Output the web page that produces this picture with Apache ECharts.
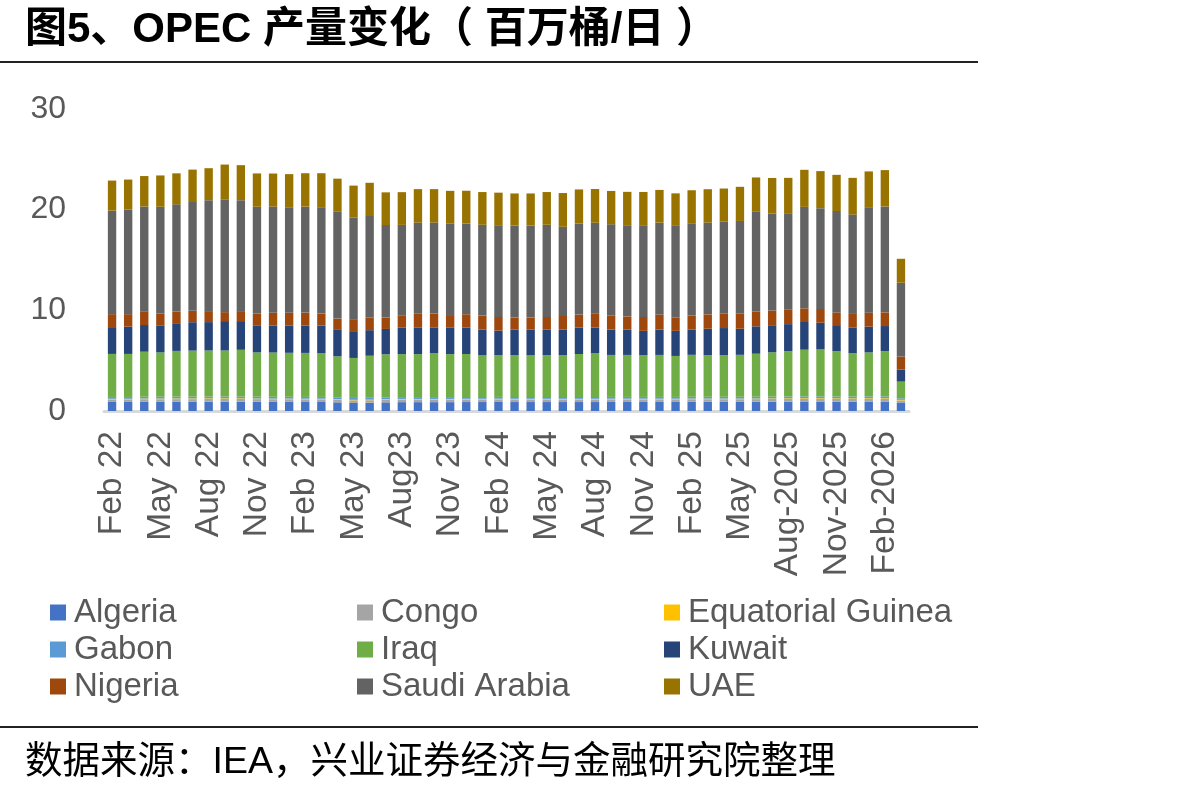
<!DOCTYPE html>
<html>
<head>
<meta charset="utf-8">
<script src="https://cdn.jsdelivr.net/npm/echarts@6/dist/echarts.min.js"></script>
<style>
  html, body { margin: 0; padding: 0; background: #fff; }
  #main { width: 1192px; height: 792px; }
</style>
</head>
<body>
<div id="main"></div>
<script>
// 月份（每三个月显示一个标签）
var months = ['Feb 22','Mar 22','Apr 22','May 22','Jun 22','Jul 22','Aug 22','Sep 22','Oct 22','Nov 22','Dec 22',
  'Jan 23','Feb 23','Mar 23','Apr 23','May 23','Jun 23','Jul 23','Aug23','Sep 23','Oct 23','Nov 23','Dec 23',
  'Jan 24','Feb 24','Mar 24','Apr 24','May 24','Jun 24','Jul 24','Aug 24','Sep 24','Oct 24','Nov 24','Dec 24',
  'Jan 25','Feb 25','Mar 25','Apr 25','May 25','Jun 25','Jul 25','Aug-2025','Sep-2025','Oct-2025','Nov-2025','Dec-2025',
  'Jan-2026','Feb-2026','Mar-2026'];

var yTicks = [0, 10, 20, 30];

// 各国产量，百万桶/日
var algeria = [0.90,0.90,0.91,0.91,0.92,0.92,0.93,0.93,0.93,0.92,0.91,0.91,0.90,0.90,0.86,0.80,0.82,0.86,0.88,0.88,0.88,0.88,0.89,0.89,0.90,0.89,0.89,0.89,0.89,0.89,0.89,0.90,0.90,0.90,0.90,0.90,0.91,0.91,0.91,0.91,0.92,0.93,0.93,0.94,0.94,0.93,0.93,0.94,0.94,0.85];
var congo = [0.26,0.26,0.26,0.26,0.26,0.26,0.26,0.26,0.26,0.26,0.26,0.26,0.26,0.26,0.26,0.26,0.25,0.26,0.26,0.26,0.26,0.26,0.26,0.26,0.26,0.26,0.26,0.26,0.26,0.26,0.26,0.26,0.26,0.26,0.26,0.26,0.26,0.26,0.26,0.26,0.26,0.26,0.26,0.26,0.26,0.26,0.26,0.26,0.26,0.20];
var eqGuinea = [0.06,0.06,0.07,0.07,0.07,0.07,0.07,0.07,0.07,0.06,0.06,0.06,0.06,0.06,0.06,0.05,0.06,0.06,0.06,0.06,0.06,0.06,0.06,0.06,0.06,0.06,0.06,0.06,0.06,0.06,0.06,0.06,0.06,0.06,0.06,0.06,0.06,0.06,0.06,0.06,0.06,0.06,0.07,0.07,0.07,0.07,0.07,0.07,0.07,0.06];
var gabon = [0.18,0.18,0.18,0.18,0.18,0.18,0.18,0.18,0.18,0.18,0.18,0.18,0.18,0.18,0.18,0.19,0.19,0.18,0.18,0.18,0.18,0.18,0.18,0.18,0.18,0.18,0.18,0.18,0.18,0.18,0.18,0.18,0.18,0.18,0.18,0.18,0.18,0.18,0.18,0.18,0.18,0.18,0.18,0.18,0.18,0.18,0.18,0.18,0.18,0.15];
var iraq = [4.27,4.27,4.47,4.40,4.54,4.57,4.57,4.57,4.64,4.40,4.40,4.37,4.37,4.34,4.07,3.97,4.17,4.27,4.27,4.27,4.37,4.27,4.27,4.14,4.14,4.17,4.14,4.17,4.17,4.27,4.37,4.17,4.17,4.14,4.17,4.07,4.17,4.14,4.14,4.17,4.27,4.40,4.50,4.64,4.67,4.50,4.30,4.37,4.50,1.66];
var kuwait = [2.66,2.72,2.65,2.69,2.75,2.82,2.82,2.92,2.85,2.69,2.69,2.72,2.72,2.75,2.69,2.66,2.54,2.52,2.62,2.62,2.52,2.62,2.62,2.55,2.45,2.52,2.55,2.52,2.52,2.62,2.52,2.52,2.52,2.42,2.52,2.49,2.52,2.62,2.69,2.59,2.72,2.69,2.69,2.75,2.65,2.59,2.53,2.56,2.49,1.19];
var nigeria = [1.29,1.23,1.33,1.19,1.16,1.13,1.09,0.89,0.99,1.19,1.26,1.26,1.29,1.19,1.06,1.19,1.26,1.13,1.20,1.39,1.43,1.26,1.33,1.40,1.36,1.20,1.20,1.26,1.36,1.30,1.39,1.40,1.31,1.39,1.50,1.33,1.40,1.43,1.45,1.52,1.49,1.46,1.43,1.36,1.36,1.26,1.45,1.39,1.36,1.30];
var saudi = [10.28,10.38,10.45,10.59,10.65,10.81,11.02,11.18,11.02,10.59,10.55,10.48,10.52,10.55,10.61,10.08,10.07,9.19,9.02,9.06,9.02,9.09,9.02,9.02,9.09,9.15,9.15,9.16,8.86,9.05,9.03,9.05,9.04,9.09,9.12,9.15,9.15,9.12,9.13,9.19,9.89,9.62,9.52,10.08,10.02,10.08,9.79,10.41,10.52,7.33];
var uae = [2.99,2.99,3.02,3.11,3.08,3.22,3.18,3.48,3.48,3.31,3.28,3.29,3.32,3.39,3.29,3.19,3.31,3.25,3.25,3.32,3.32,3.25,3.25,3.25,3.25,3.18,3.18,3.25,3.35,3.38,3.35,3.32,3.33,3.32,3.25,3.18,3.28,3.31,3.28,3.39,3.41,3.55,3.58,3.68,3.68,3.59,3.65,3.62,3.61,2.38];

var names = ['Algeria','Congo','Equatorial Guinea','Gabon','Iraq','Kuwait','Nigeria','Saudi Arabia','UAE'];
var colors = ['#4472C4','#A5A5A5','#FFC000','#5B9BD5','#70AD47','#264478','#9E480E','#636363','#997300'];
var values = [algeria, congo, eqGuinea, gabon, iraq, kuwait, nigeria, saudi, uae];

var FONT = '"Liberation Sans", Arial, "Noto Sans CJK SC", sans-serif';

var chart = echarts.init(document.getElementById('main'));

var series = names.map(function (n, i) {
  return {
    name: n,
    type: 'bar',
    stack: 'total',
    barWidth: '52%',
    data: values[i],
    itemStyle: { color: colors[i] }
  };
});

function legendCol(left, items) {
  return {
    orient: 'vertical',
    left: left,
    top: 596,
    padding: 0,
    itemWidth: 16,
    itemHeight: 16,
    itemGap: 4,
    icon: 'rect',
    data: items,
    textStyle: { fontSize: 33, color: '#595959', fontFamily: FONT, lineHeight: 32, padding: [0, 0, 0, 3] }
  };
}

var option = {
  animation: false,
  color: colors,
  title: [
    {
      text: '图5、OPEC 产量变化（ 百万桶/日 ）',
      left: 20, top: 4,
      textStyle: { fontSize: 42, fontWeight: 'bold', color: '#000', fontFamily: FONT }
    },
    {
      text: '数据来源：IEA，兴业证券经济与金融研究院整理',
      left: 20, top: 739,
      textStyle: { fontSize: 37.5, fontWeight: 'normal', color: '#000', fontFamily: FONT }
    }
  ],
  legend: [
    legendCol(50, ['Algeria', 'Gabon', 'Nigeria']),
    legendCol(357, ['Congo', 'Iraq', 'Saudi Arabia']),
    legendCol(664, ['Equatorial Guinea', 'Kuwait', 'UAE'])
  ],
  grid: { left: 104, top: 109, width: 805, height: 302 },
  xAxis: {
    type: 'category',
    data: months,
    axisLine: { lineStyle: { color: '#d9d9d9', width: 3 } },
    axisTick: { show: false },
    axisLabel: {
      interval: 2,
      rotate: 90,
      margin: 20,
      fontSize: 33.5,
      color: '#595959',
      fontFamily: FONT
    }
  },
  yAxis: {
    type: 'value',
    min: yTicks[0],
    max: yTicks[yTicks.length - 1],
    interval: 10,
    axisLine: { show: false },
    axisTick: { show: false },
    splitLine: { show: false },
    axisLabel: { margin: 38, fontSize: 32, color: '#595959', fontFamily: FONT }
  },
  graphic: [
    { type: 'line', shape: { x1: 0, y1: 62, x2: 978, y2: 62 }, style: { stroke: '#222', lineWidth: 2 } },
    { type: 'line', shape: { x1: 0, y1: 727, x2: 978, y2: 727 }, style: { stroke: '#222', lineWidth: 2 } }
  ],
  series: series
};

chart.setOption(option);
</script>
</body>
</html>
